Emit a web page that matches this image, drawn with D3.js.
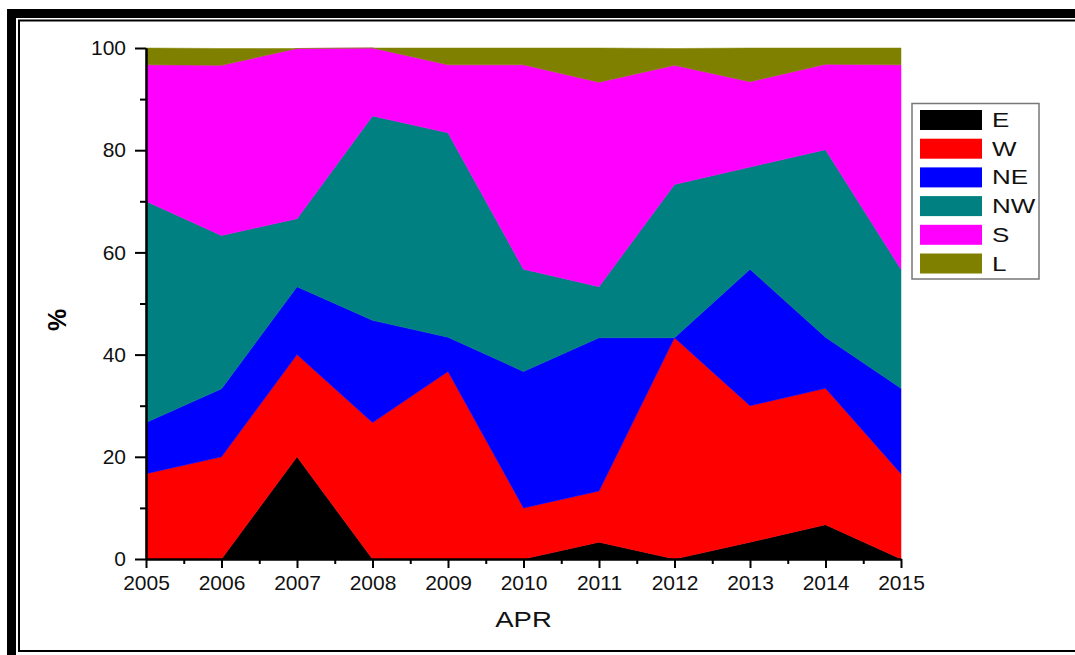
<!DOCTYPE html>
<html>
<head>
<meta charset="utf-8">
<script src="https://cdn.jsdelivr.net/npm/d3@7"></script>
<style>
html,body{margin:0;padding:0;background:#fff;}
svg{display:block;font-family:"Liberation Sans",Arial,sans-serif;}
</style>
</head>
<body>
<svg id="chart" width="1075" height="655"></svg>
<script>
const years = [2005,2006,2007,2008,2009,2010,2011,2012,2013,2014,2015];
const seriesNames = ["E","W","NE","NW","S","L"];
const seriesColors = ["#000000","#ff0000","#0000ff","#008080","#ff00ff","#808000"];
const E  = [0,0,20,0,0,0,3.3,0,3.3,6.7,0];
const W  = [16.7,20,20,26.7,36.7,10,10,43.3,26.7,26.7,16.7];
const NE = [10,13.3,13.3,20,6.7,26.7,30,0,26.7,10,16.7];
const NW = [43.3,30,13.3,40,40,20,10,30,20,36.7,23.3];
const S  = [26.7,33.3,33.3,13.3,13.3,40,40,23.3,16.7,16.7,40];
const L  = [3.3,3.3,0,0,3.3,3.3,6.7,3.3,6.7,3.3,3.3];
const yTicks = [0,20,40,60,80,100];
const xLabel = "APR";
const yLabel = "%";

const seriesValues = {E, W, NE, NW, S, L};
const rows = years.map((yr,i)=>{
  const r = {year: yr};
  seriesNames.forEach(k=>r[k]=seriesValues[k][i]);
  return r;
});

const svg = d3.select("#chart");

// frame
svg.append("rect").attr("x",11.5).attr("y",13.5).attr("width",1100).attr("height",700)
  .attr("fill","none").attr("stroke","#000").attr("stroke-width",9);
svg.append("rect").attr("x",19).attr("y",20.5).attr("width",1100).attr("height",630.5)
  .attr("fill","none").attr("stroke","#000").attr("stroke-width",2);

const x = d3.scaleLinear().domain([2005,2015]).range([146,901]);
const y = d3.scaleLinear().domain([0,100]).range([559,48]);

const stack = d3.stack().keys(seriesNames);
const layers = stack(rows);

const area = d3.area()
  .x(d=>x(d.data.year))
  .y0(d=>y(d[0]))
  .y1(d=>y(Math.min(100,d[1])));

svg.append("g").selectAll("path").data(layers).join("path")
  .attr("d",area)
  .attr("fill",(d,i)=>seriesColors[i])
  .attr("stroke",(d,i)=>seriesColors[i])
  .attr("stroke-width",0.5);

// axes
const xAxis = d3.axisBottom(x).tickValues(years).tickFormat(d3.format("d")).tickSize(9).tickSizeOuter(0).tickPadding(7);
const xMinor = d3.axisBottom(x).tickValues(years.slice(0,-1).map(v=>v+0.5)).tickFormat("").tickSize(5).tickSizeOuter(0);
const yAxis = d3.axisLeft(y).tickValues(yTicks).tickSize(11).tickSizeOuter(0).tickPadding(9);
const yMinor = d3.axisLeft(y).tickValues(yTicks.slice(0,-1).map(v=>v+10)).tickFormat("").tickSize(6).tickSizeOuter(0);

function styleAxis(g){
  g.select(".domain").attr("stroke","#000").attr("stroke-width",2);
  g.selectAll(".tick line").attr("stroke","#000").attr("stroke-width",2);
  g.selectAll(".tick text").attr("fill","#111").style("font-size","21px")
   .style("font-family","'Liberation Sans',Arial,sans-serif");
}
svg.append("g").attr("transform","translate(0,559)").call(xMinor).call(styleAxis);
svg.append("g").attr("transform","translate(0,559)").call(xAxis).call(styleAxis);
svg.append("g").attr("transform","translate(146,0)").call(yMinor).call(styleAxis);
svg.append("g").attr("transform","translate(146,0)").call(yAxis).call(styleAxis);

// axis titles
svg.append("text").attr("transform","translate(523.5,627) scale(1.25,1)")
  .attr("text-anchor","middle").style("font-size","22px").attr("fill","#111").text(xLabel);
svg.append("text").attr("transform","translate(66,320) rotate(-90)")
  .attr("text-anchor","middle").style("font-size","25px").style("font-weight","bold").attr("fill","#000").text(yLabel);

// legend
const lg = svg.append("g");
lg.append("rect").attr("x",912).attr("y",103.5).attr("width",127).attr("height",175.5)
  .attr("fill","#fff").attr("stroke","#777").attr("stroke-width",1.5);
seriesNames.forEach((name,i)=>{
  const yy = 110 + i*28.7;
  lg.append("rect").attr("x",920).attr("y",yy).attr("width",62).attr("height",20).attr("fill",seriesColors[i]);
  lg.append("text").attr("transform",`translate(992,${yy+17}) scale(1.3,1)`)
    .style("font-size","20px").attr("fill","#111").text(name);
});
</script>
</body>
</html>
